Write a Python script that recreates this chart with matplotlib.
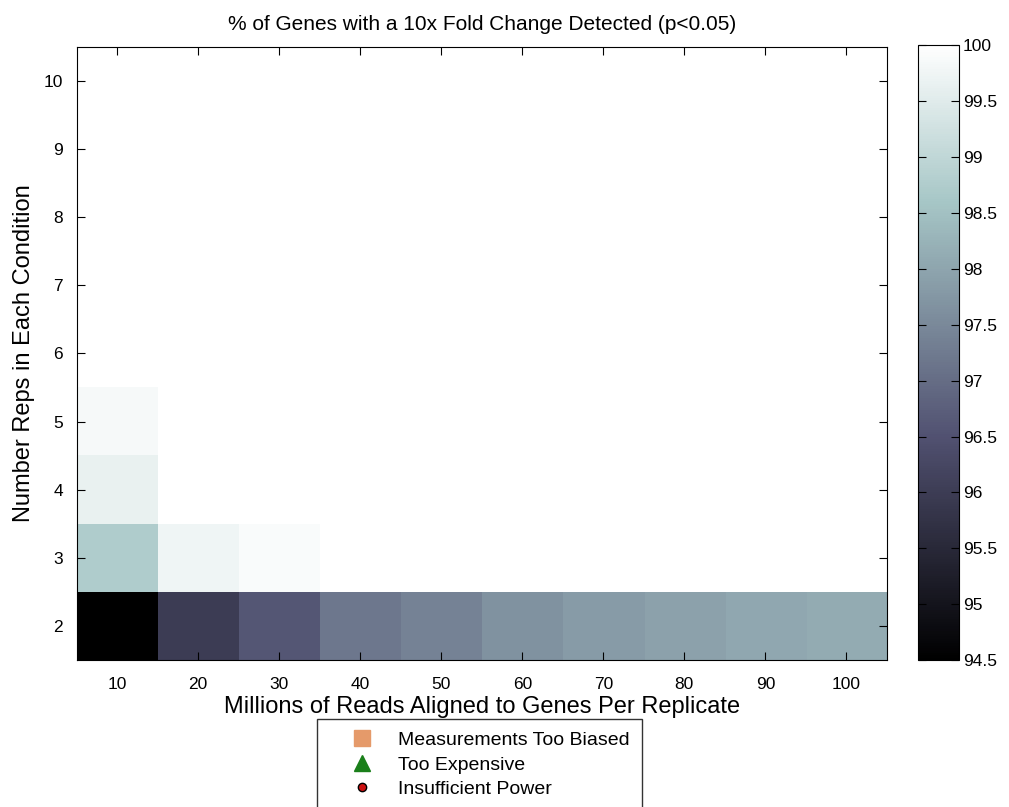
import numpy as np
import matplotlib.pyplot as plt
from matplotlib.lines import Line2D

plt.rcParams['font.family'] = ['Liberation Sans', 'DejaVu Sans']

# =========================
# Data
# =========================
reads = [10, 20, 30, 40, 50, 60, 70, 80, 90, 100]
reps = [2, 3, 4, 5, 6, 7, 8, 9, 10]

row_2 = [94.5, 96.0, 96.6, 97.2, 97.4, 97.66, 97.85, 97.95, 98.05, 98.12]
row_3 = [98.75, 99.75, 99.9, 100, 100, 100, 100, 100, 100, 100]
row_4 = [99.65, 100, 100, 100, 100, 100, 100, 100, 100, 100]
row_5 = [99.85, 100, 100, 100, 100, 100, 100, 100, 100, 100]
row_rest = [100] * 10

cbar_ticks = [94.5, 95, 95.5, 96, 96.5, 97, 97.5, 98, 98.5, 99, 99.5, 100]
cbar_labels = ["94.5", "95", "95.5", "96", "96.5", "97", "97.5", "98",
               "98.5", "99", "99.5", "100"]

grid = np.array([row_2, row_3, row_4, row_5] + [row_rest] * 5)

# =========================
# Plot
# =========================
fig = plt.figure(figsize=(10.09, 8.07), dpi=100)
ax = fig.add_axes([0.076, 0.182, 0.803, 0.760])
cax = fig.add_axes([0.910, 0.182, 0.040, 0.762])

mesh = ax.imshow(
    grid, cmap="bone", vmin=94.5, vmax=100, origin="lower",
    extent=[5, 105, 1.5, 10.5], aspect="auto", interpolation="nearest"
)

ax.set_xticks(reads)
ax.set_yticks(reps)
ax.tick_params(direction="in", top=True, right=True, length=6, labelsize=12.5)
ax.tick_params(axis="x", pad=12)
ax.tick_params(axis="y", pad=10)
ax.set_xlabel("Millions of Reads Aligned to Genes Per Replicate", fontsize=17, labelpad=3)
ax.set_ylabel("Number Reps in Each Condition", fontsize=17, labelpad=6)
ax.set_title("% of Genes with a 10x Fold Change Detected (p<0.05)", fontsize=15, pad=12)

cb = fig.colorbar(mesh, cax=cax)
cb.set_ticks(cbar_ticks)
cb.set_ticklabels(cbar_labels)
cb.ax.tick_params(direction="in", length=6, labelsize=12.5, left=True, pad=3)

handles = [
    Line2D([], [], marker="s", color="#e59a6a", linestyle="none", markersize=12),
    Line2D([], [], marker="^", color="#1a7f1a", linestyle="none", markersize=12),
    Line2D([], [], marker="o", color="#cc1111", markeredgecolor="black",
           linestyle="none", markersize=6),
]
labels = ["Measurements Too Biased", "Too Expensive", "Insufficient Power"]
leg = fig.legend(
    handles, labels, loc="upper left", bbox_to_anchor=(0.314, 0.109),
    fontsize=14, frameon=True, fancybox=False, edgecolor="black",
    borderpad=0.65, labelspacing=0.35, handlelength=3.3, handletextpad=0.2,
    borderaxespad=0
)
leg.get_frame().set_linewidth(1.0)

fig.savefig("out.png", dpi=100)
